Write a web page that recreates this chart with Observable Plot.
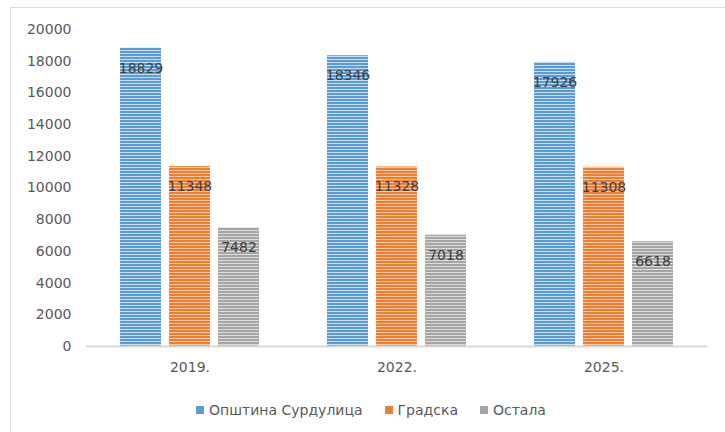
<!DOCTYPE html>
<html><head><meta charset="utf-8">
<script src="https://cdn.jsdelivr.net/npm/d3@7"></script>
<script src="https://cdn.jsdelivr.net/npm/@observablehq/plot@0.6"></script>
<style>
body{margin:0;background:#fff;width:725px;height:432px;overflow:hidden;position:relative;font-family:"DejaVu Sans",sans-serif}
#frame{position:absolute;left:10px;top:7px;width:730px;height:440px;border:1px solid #d9d9d9;box-sizing:border-box}
#chart{position:absolute;left:0;top:0}
#legend{position:absolute;top:401px;left:0;width:742px;display:flex;justify-content:center;gap:22px;font-size:14px;color:#595959;line-height:18px}
#legend .item{display:flex;align-items:center}
#legend .sw{width:8px;height:8px;margin-right:5px}
</style></head>
<body>
<div id="frame"></div>
<div id="chart"></div>
<div id="legend"></div>
<script>
const years = ["2019.", "2022.", "2025."];
const series = ["Општина Сурдулица", "Градска", "Остала"];
const valuesOpstina = [18829, 18346, 17926];
const valuesGradska = [11348, 11328, 11308];
const valuesOstala = [7482, 7018, 6618];
const yTicks = [0, 2000, 4000, 6000, 8000, 10000, 12000, 14000, 16000, 18000, 20000];
const colors = ["#5B9BD5", "#ED7D31", "#A5A5A5"];
const lights = ["#c9ddf1", "#f8c9a9", "#dcdcdc"];

const seriesValues = [valuesOpstina, valuesGradska, valuesOstala];
const data = [];
years.forEach((yr, i) => series.forEach((s, j) => data.push({year: yr, series: s, value: seriesValues[j][i], idx: j})));

const patUrl = j => `url(#pat${j})`;

const chart = Plot.plot({
  width: 725,
  height: 390,
  marginTop: 29,
  marginBottom: 44,
  marginLeft: 85,
  marginRight: 17,
  style: {fontFamily: "DejaVu Sans, sans-serif", fontSize: "14px", color: "#595959", background: "transparent"},
  fx: {domain: years, padding: 0, tickSize: 0, tickPadding: 16, label: null},
  x: {domain: series, paddingInner: 0.16, paddingOuter: 0.66, axis: null},
  y: {domain: [0, 20000], ticks: yTicks, tickFormat: d => String(d), tickSize: 0, tickPadding: 15, label: null},
  marks: [
    Plot.barY(data, {fx: "year", x: "series", y: "value", fill: d => patUrl(d.idx)}),
    Plot.ruleY([0], {stroke: "#d9d9d9", strokeWidth: 2}),
    Plot.text(data, {fx: "year", x: "series", y: "value", text: d => String(d.value), dy: 20, fill: "#404040", fontSize: 14})
  ]
});

const svg = d3.select(chart);
const defs = svg.insert("defs", ":first-child");
colors.forEach((c, j) => {
  const p = defs.append("pattern").attr("id", `pat${j}`).attr("patternUnits", "userSpaceOnUse").attr("width", 4).attr("height", 3);
  p.append("rect").attr("width", 4).attr("height", 3).attr("fill", c);
  p.append("rect").attr("y", 2).attr("width", 4).attr("height", 1).attr("fill", lights[j]);
});
document.getElementById("chart").appendChild(chart);

const legend = d3.select("#legend");
series.forEach((s, j) => {
  const it = legend.append("div").attr("class", "item");
  it.append("div").attr("class", "sw").style("background", colors[j]);
  it.append("span").text(s);
});
</script>
</body></html>
